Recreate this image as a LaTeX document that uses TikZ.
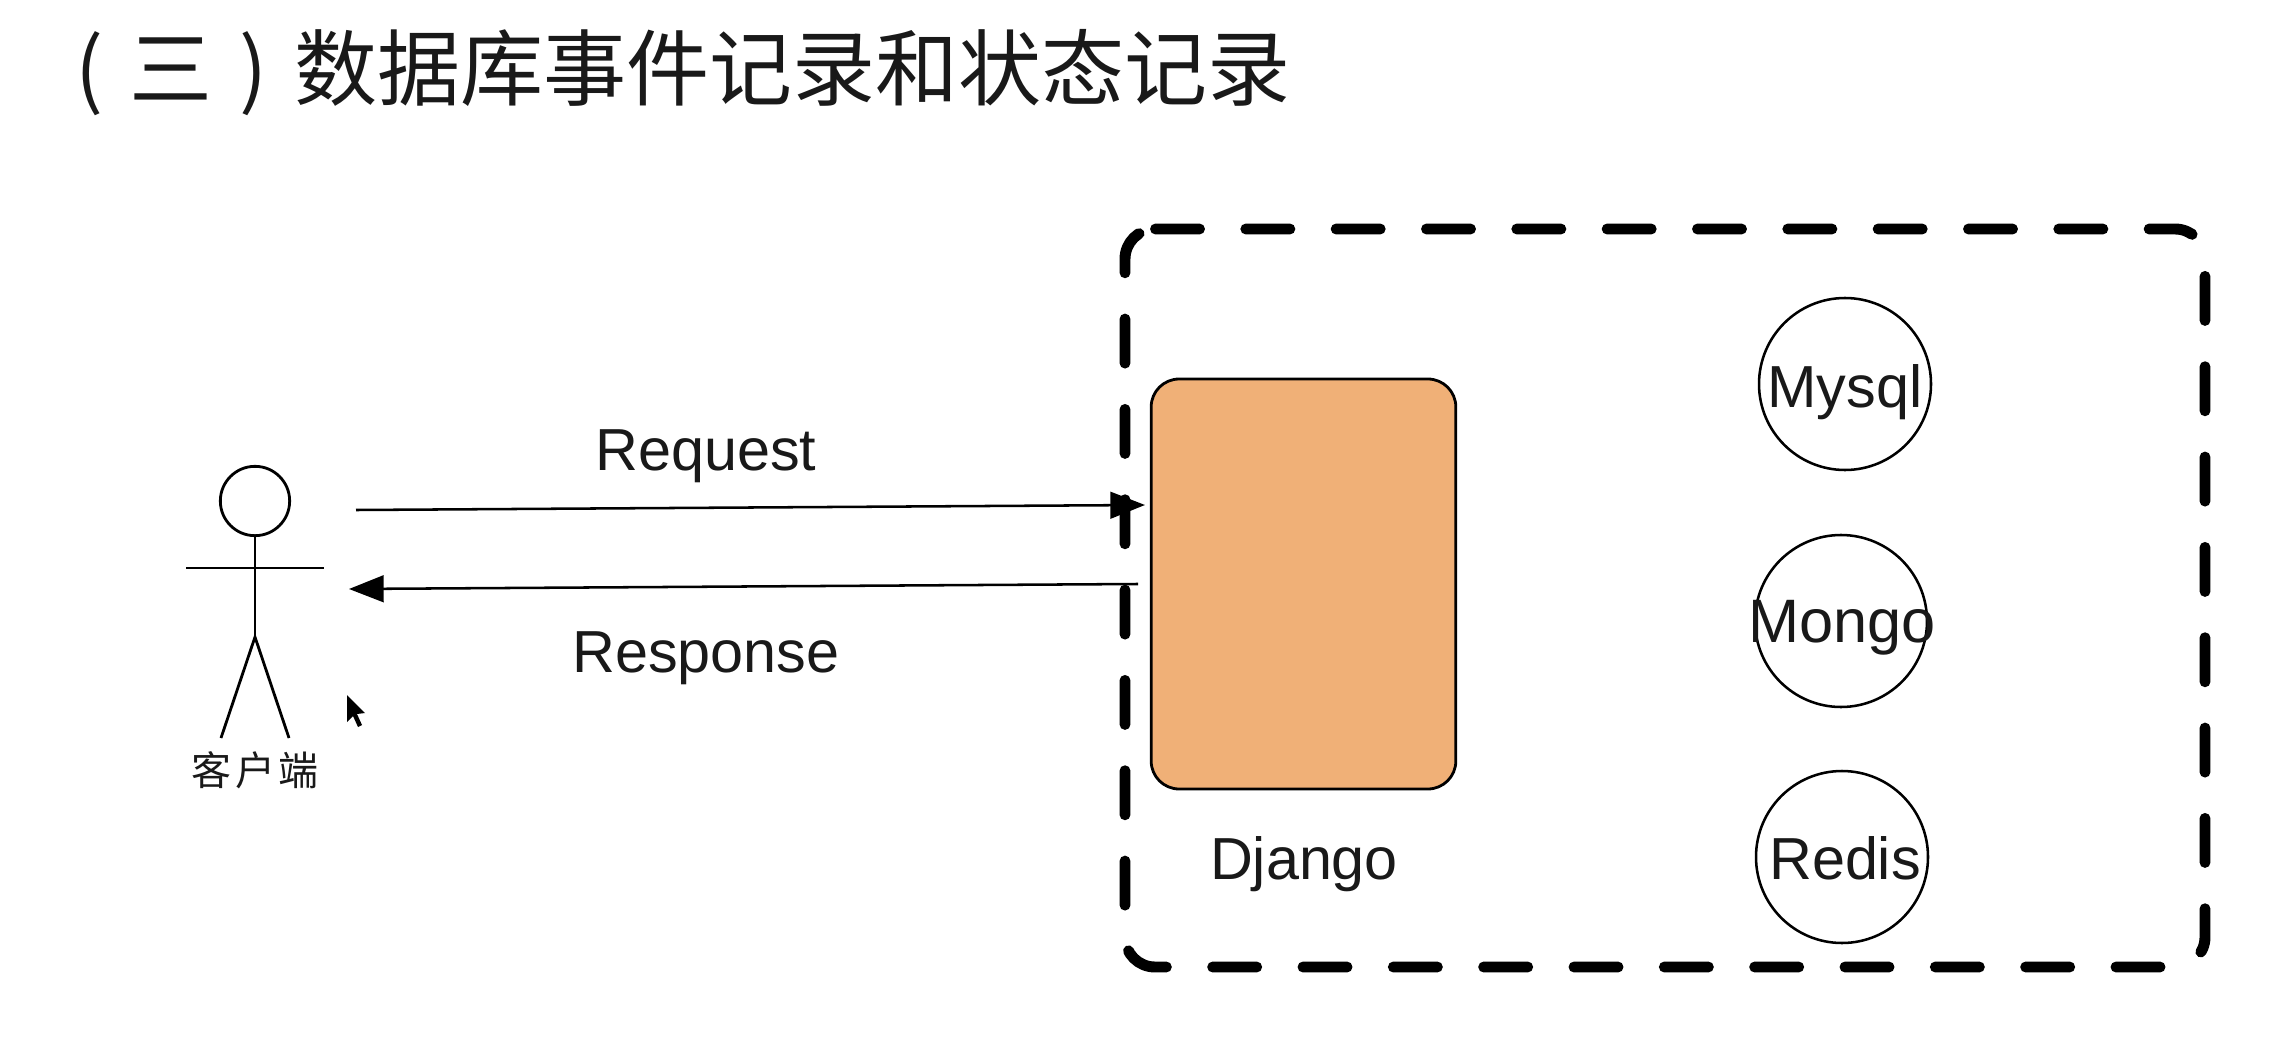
\documentclass[tikz,border=0pt]{standalone}
\usepackage{fontspec}
\setmainfont{Liberation Sans}
\newfontfamily\cjk{Noto Sans CJK SC}
\usetikzlibrary{arrows.meta}
\definecolor{djangofill}{HTML}{F0B077}
\tikzset{
  x=0.75pt,y=-0.75pt,
  thinline/.style={draw=black,line width=2.1pt},
  conn/.style={draw=black,line width=1.9pt,-{Triangle[length=26pt,width=20pt]}},
  db/.style={circle,draw=black,line width=1.9pt,minimum size=129pt,inner sep=0pt},
  lbl/.style={inner sep=0pt,anchor=base,font=\fontsize{44.5}{52}\selectfont,text=black!90},
}
\begin{document}
\begin{tikzpicture}
\useasboundingbox (0,0) rectangle (2296,1052);
\node[inner sep=0pt,anchor=west,font=\cjk\fontsize{62.3}{70}\selectfont,text=black!90] (title) at (75,73) {(\hspace{0.32em}三\hspace{0.32em})\hspace{0.32em}数据库事件记录和状态记录};
\draw[black,line width=8.2pt,line cap=round,dash pattern=on 33pt off 34.75pt,rounded corners=22.5pt]
  (1155.5,229) -- (2205,229) -- (2205,967) -- (1125,967) -- (1125,229) -- (1155.5,229);
\node[rectangle,rounded corners=21pt,draw=black,line width=2.1pt,fill=djangofill,minimum width=228.5pt,minimum height=307.5pt,inner sep=0pt] (django) at (1303.5,584) {};
\node[lbl] (djangolabel) at (1304,879) {Django};
\node[db] (mysql) at (1845,384) {};
\node[lbl] (mysqllabel) at (1845,407) {Mysql};
\node[db] (mongo) at (1841,621) {};
\node[lbl,font=\fontsize{46}{52}\selectfont] (mongolabel) at (1842,642) {Mongo};
\node[db] (redis) at (1842,857) {};
\node[lbl] (redislabel) at (1845,879) {Redis};
\node[circle,draw=black,line width=2.1pt,minimum size=52pt,inner sep=0pt] (head) at (255,501) {};
\coordinate (arml) at (186,568);
\coordinate (armr) at (324,568);
\coordinate (hip) at (255,637);
\coordinate (legl) at (221,738);
\coordinate (legr) at (289,738);
\draw[thinline] (head.south) -- (hip);
\draw[thinline] (arml) -- (armr);
\draw[thinline] (legl) -- (hip) -- (legr);
\node[inner sep=0pt,font=\cjk\fontsize{30}{34}\selectfont,text=black!90] (client) at (255,770) {客\hspace{0.08em}户\hspace{0.08em}端};
\coordinate (reqs) at (356,510);
\coordinate (reqe) at (1145,505);
\coordinate (ress) at (1138,584);
\coordinate (rese) at (349,589);
\draw[conn] (reqs) -- (reqe);
\draw[conn] (ress) -- (rese);
\node[lbl] (request) at (706,470) {Request};
\node[lbl] (response) at (706,672) {Response};
\fill[black] (347,695) -- (347,722) -- (353,716) -- (358,727) -- (362,725) -- (357,714) -- (365,713) -- cycle;
\end{tikzpicture}
\end{document}
